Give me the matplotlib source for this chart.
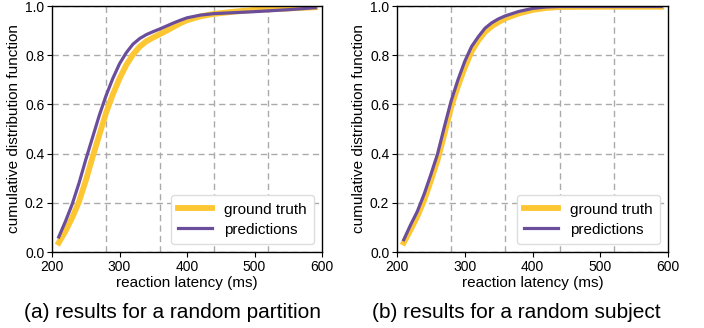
import matplotlib
matplotlib.use("Agg")
import matplotlib.pyplot as plt
from matplotlib.ticker import FixedLocator

plt.rcParams['font.family'] = ['Liberation Sans', 'DejaVu Sans']

# ---- data ----
x_left = [210, 220, 230, 240, 250, 260, 270, 280, 290, 300, 310, 320, 330, 340, 350, 360,
          370, 380, 390, 400, 420, 440, 470, 500, 550, 590]
gt_left = [0.038, 0.085, 0.14, 0.205, 0.29, 0.385, 0.475, 0.565, 0.64, 0.705, 0.76, 0.803,
           0.835, 0.857, 0.872, 0.886, 0.90, 0.915, 0.93, 0.942, 0.958, 0.968, 0.977, 0.984,
           0.99, 0.995]
pred_left = [0.061, 0.125, 0.195, 0.28, 0.375, 0.465, 0.555, 0.635, 0.705, 0.765, 0.81, 0.845,
             0.868, 0.884, 0.896, 0.907, 0.919, 0.931, 0.942, 0.952, 0.963, 0.969, 0.973,
             0.977, 0.985, 0.993]

x_right = [210, 220, 230, 240, 250, 260, 270, 280, 290, 300, 310, 320, 330, 340, 350, 360,
           380, 400, 420, 440, 500, 590]
gt_right = [0.038, 0.09, 0.145, 0.21, 0.29, 0.375, 0.48, 0.59, 0.675, 0.75, 0.815, 0.86, 0.895,
            0.918, 0.935, 0.95, 0.97, 0.984, 0.992, 0.996, 0.997, 0.997]
pred_right = [0.05, 0.11, 0.165, 0.235, 0.315, 0.40, 0.51, 0.615, 0.70, 0.775, 0.835, 0.875,
              0.91, 0.932, 0.948, 0.96, 0.978, 0.99, 0.996, 0.998, 0.998, 0.998]

captions = ["(a) results for a random partition", "(b) results for a random subject"]
xticks = [200, 300, 400, 500, 600]
yticks = [0.0, 0.2, 0.4, 0.6, 0.8, 1.0]
xgrid = [280, 360, 440, 520]

YELLOW = "#FDC633"
PURPLE = "#6B4E9B"

fig = plt.figure(figsize=(7.04, 3.28), dpi=100)
W, H = 704, 328
boxes = [(52, 6, 322, 252), (397, 6, 668, 252)]
cap_x = [172, 516]
series = [(x_left, gt_left, pred_left), (x_right, gt_right, pred_right)]

for (l, t, r, b), (xs, gt, pr), cap, cx in zip(boxes, series, captions, cap_x):
    ax = fig.add_axes([l / W, 1 - b / H, (r - l) / W, (b - t) / H])
    ax.plot(xs, gt, color=YELLOW, lw=4.2, label="ground truth", solid_joinstyle='round')
    ax.plot(xs, pr, color=PURPLE, lw=2.3, label="predictions", solid_joinstyle='round')
    ax.set_xlim(200, 600)
    ax.set_ylim(0, 1)
    ax.set_xticks(xticks)
    ax.set_yticks(yticks)
    ax.xaxis.set_minor_locator(FixedLocator(xgrid))
    ax.tick_params(axis='x', which='minor', length=0)
    ax.tick_params(axis='both', which='major', labelsize=10, length=3.5, width=0.8,
                   color='black', pad=2)
    ax.grid(True, axis='x', which='minor', ls=(0, (4.5, 3)), color='#aaaaaa', lw=1.0)
    ax.grid(True, axis='y', which='major', ls=(0, (4.5, 3)), color='#aaaaaa', lw=1.0)
    ax.set_axisbelow(True)
    for s in ax.spines.values():
        s.set_linewidth(1.0)
    ax.set_xlabel("reaction latency (ms)", fontsize=11, labelpad=2)
    ax.set_ylabel("cumulative distribution function", fontsize=11, labelpad=3)
    ax.legend(loc='lower right', fontsize=11, handlelength=2.2, borderpad=0.5,
              labelspacing=0.4, handletextpad=0.8, edgecolor='#dddddd', framealpha=1,
              fancybox=True, borderaxespad=0.5)
    fig.text(cx / W, 1 - 313 / H, cap, ha='center', va='center', fontsize=15)

fig.savefig("out.png", dpi=100)
